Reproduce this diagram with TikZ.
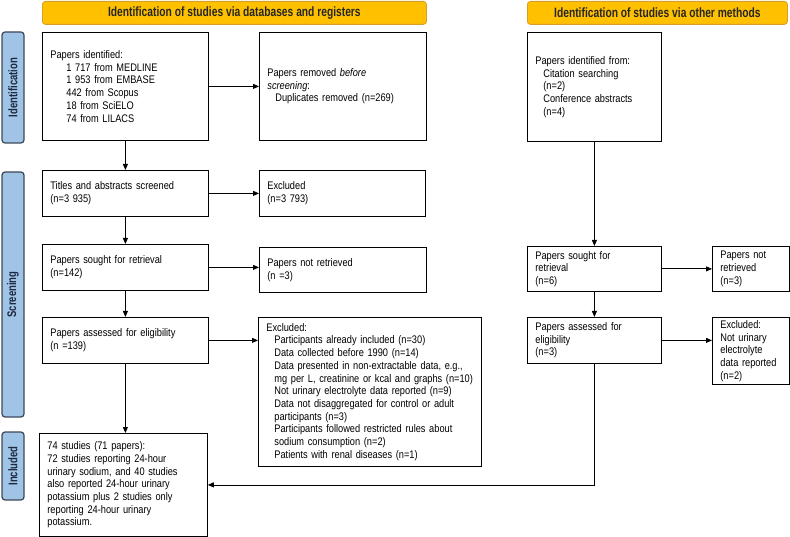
\documentclass[tikz,border=0pt]{standalone}
\usepackage{fontspec}
\setmainfont{Liberation Sans}[FakeStretch=0.84]
\newfontfamily\headfont{Liberation Sans Bold}[FakeStretch=0.76]
\usetikzlibrary{arrows.meta}

\definecolor{headgold}{RGB}{255,192,0}
\definecolor{headedge}{RGB}{214,160,40}
\definecolor{sideblue}{RGB}{160,196,230}
\definecolor{sideedge}{RGB}{60,72,88}
\definecolor{sidetext}{RGB}{30,40,65}

\begin{document}
\begin{tikzpicture}[x=1pt, y=-1pt, arrows={-Triangle[length=6pt,width=5pt]},
	box/.style={draw, line width=0.8pt, rectangle, anchor=north west, align=left,
		inner xsep=8pt, inner ysep=2pt,
		font=\fontsize{11pt}{12.7pt}\selectfont},
	head/.style={draw=headedge, fill=headgold, line width=0.8pt, rounded corners=3pt,
		anchor=north west, minimum height=23pt, text=black!85,
		font=\headfont\fontsize{13.5pt}{15pt}\selectfont},
	side/.style={draw=sideedge, fill=sideblue, line width=1.2pt, rounded corners=3pt,
		rotate=90, minimum height=22pt, text=sidetext,
		font=\headfont\fontsize{12.5pt}{14pt}\selectfont}]
	\useasboundingbox (0,0) rectangle (790,537);

	% headers
	\node[head, minimum width=384pt] (H1) at (42,1) {Identification of studies via databases and registers};
	\node[head, minimum width=260pt] (H2) at (527,1) {Identification of studies via other methods};

	% side bars
	\node[side, minimum width=111pt] (S1) at (13,87.5) {Identification};
	\node[side, minimum width=245pt] (S2) at (13,294.5) {Screening};
	\node[side, minimum width=68pt] (S3) at (13,466) {Included};

	% databases and registers
	\node[box, text width=150pt, minimum height=108pt] (A1) at (42,32)
		{Papers identified:\\
		\hspace*{16pt}1 717 from MEDLINE\\
		\hspace*{16pt}1 953 from EMBASE\\
		\hspace*{16pt}442 from Scopus\\
		\hspace*{16pt}18 from SciELO\\
		\hspace*{16pt}74 from LILACS};
	\node[box, text width=151pt, minimum height=108pt] (A2) at (259,32)
		{Papers removed \emph{before}\\
		\emph{screening}:\\
		\hspace*{8pt}Duplicates removed (n=269)};
	\node[box, text width=150pt, minimum height=46pt] (B1) at (42,170)
		{Titles and abstracts screened\\(n=3 935)};
	\node[box, text width=150pt, minimum height=46pt] (B2) at (259,170)
		{Excluded\\(n=3 793)};
	\node[box, text width=150pt, minimum height=46pt] (C1) at (42,244)
		{Papers sought for retrieval\\(n=142)};
	\node[box, text width=151pt, minimum height=45pt] (C2) at (259,247)
		{Papers not retrieved\\(n =3)};
	\node[box, text width=150pt, minimum height=46pt] (D1) at (42,317)
		{Papers assessed for eligibility\\(n =139)};
	\node[box, text width=207pt, minimum height=149pt] (D2) at (258,317)
		{Excluded:\\
		\hspace*{8pt}Participants already included (n=30)\\
		\hspace*{8pt}Data collected before 1990 (n=14)\\
		\hspace*{8pt}Data presented in non-extractable data, e.g.,\\
		\hspace*{8pt}mg per L, creatinine or kcal and graphs (n=10)\\
		\hspace*{8pt}Not urinary electrolyte data reported (n=9)\\
		\hspace*{8pt}Data not disaggregated for control or adult\\
		\hspace*{8pt}participants (n=3)\\
		\hspace*{8pt}Participants followed restricted rules about\\
		\hspace*{8pt}sodium consumption (n=2)\\
		\hspace*{8pt}Patients with renal diseases (n=1)};
	\node[box, text width=152pt, minimum height=103pt] (E1) at (39,433)
		{74 studies (71 papers):\\
		72 studies reporting 24-hour\\
		urinary sodium, and 40 studies\\
		also reported 24-hour urinary\\
		potassium plus 2 studies only\\
		reporting 24-hour urinary\\
		potassium.};

	% other methods
	\node[box, text width=118pt, minimum height=109pt] (F1) at (527,32)
		{Papers identified from:\\
		\hspace*{8pt}Citation searching\\
		\hspace*{8pt}(n=2)\\
		\hspace*{8pt}Conference abstracts\\
		\hspace*{8pt}(n=4)\\[18pt]};
	\node[box, text width=118pt, minimum height=45pt] (G1) at (527,246)
		{Papers sought for\\retrieval\\(n=6)};
	\node[box, text width=61pt, minimum height=45pt] (G2) at (712,246)
		{Papers not\\retrieved\\(n=3)};
	\node[box, text width=118pt, minimum height=46pt] (K1) at (527,317)
		{Papers assessed for\\eligibility\\(n=3)};
	\node[box, text width=61pt, minimum height=67pt] (K2) at (712,317)
		{Excluded:\\Not urinary\\electrolyte\\data reported\\(n=2)};

	\draw[line width=0.8pt] (A1) to (A2);
	\draw[line width=0.8pt] (A1) to (B1);
	\draw[line width=0.8pt] (B1) to (B2);
	\draw[line width=0.8pt] (B1) to (C1);
	\draw[line width=0.8pt] (C1.east) to (C1.east -| C2.west);
	\draw[line width=0.8pt] (C1) to (D1);
	\draw[line width=0.8pt] (D1.east) to (D1.east -| D2.west);
	\draw[line width=0.8pt] (D1.south) to (D1.south |- E1.north);

	\draw[line width=0.8pt] (F1) to (G1);
	\draw[line width=0.8pt] (G1) to (G2);
	\draw[line width=0.8pt] (G1) to (K1);
	\draw[line width=0.8pt] (K1.east) to (K1.east -| K2.west);
	\draw[line width=0.8pt] (K1.south) |- (E1.east);
\end{tikzpicture}
\end{document}
